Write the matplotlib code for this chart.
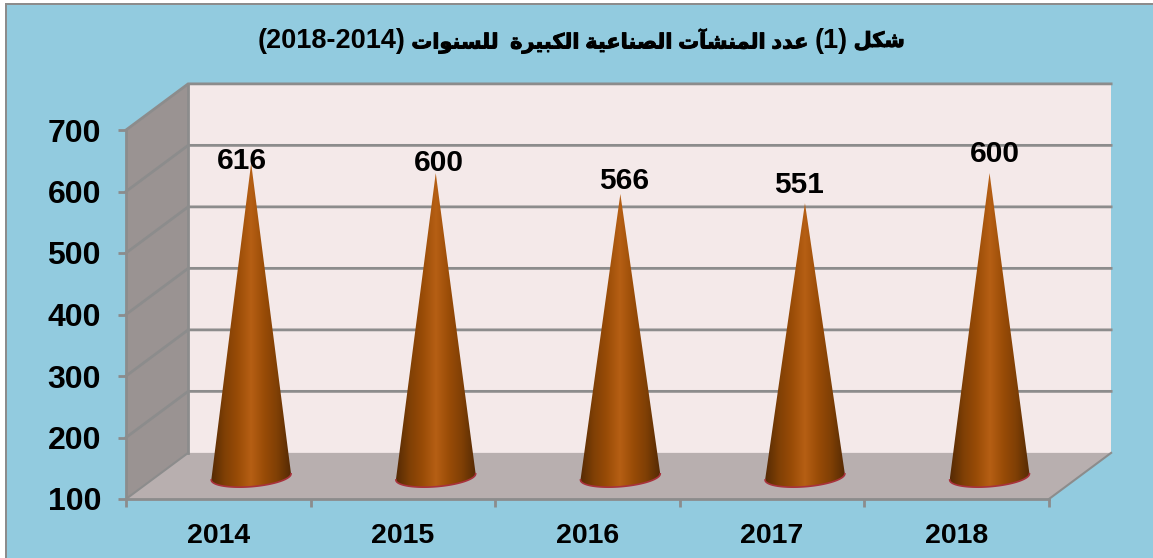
import numpy as np
import matplotlib
matplotlib.use('Agg')
import matplotlib.pyplot as plt
import matplotlib.patheffects as pe
from matplotlib.colors import LinearSegmentedColormap
from matplotlib.patches import Polygon, Rectangle

# matplotlib has no arabic shaping, so pick the presentation forms by hand
FORMS = {
    'ا': 'ﺍﺎ', 'آ': 'ﺁﺂ', 'د': 'ﺩﺪ', 'ر': 'ﺭﺮ', 'و': 'ﻭﻮ', 'ة': 'ﺓﺔ',
    'ب': 'ﺏﺐﺑﺒ', 'ت': 'ﺕﺖﺗﺘ', 'س': 'ﺱﺲﺳﺴ', 'ش': 'ﺵﺶﺷﺸ', 'ص': 'ﺹﺺﺻﺼ',
    'ع': 'ﻉﻊﻋﻌ', 'ك': 'ﻙﻚﻛﻜ', 'ل': 'ﻝﻞﻟﻠ', 'م': 'ﻡﻢﻣﻤ', 'ن': 'ﻥﻦﻧﻨ', 'ي': 'ﻱﻲﻳﻴ',
}

def shape_word(word):
    out = ''
    for i, ch in enumerate(word):
        forms = FORMS[ch]
        joins_prev = i > 0 and len(FORMS[word[i-1]]) == 4
        joins_next = i < len(word)-1 and len(forms) == 4
        if joins_prev and joins_next:
            out += forms[3]
        elif joins_next:
            out += forms[2]
        elif joins_prev:
            out += forms[1]
        else:
            out += forms[0]
    return out[::-1]

def shape_words(words):
    return ' '.join(shape_word(w) if w else '' for w in words[::-1])

#INPUTS
# title pieces, right to left as they stand in the picture
title_pieces = [shape_words(['شكل']), '(1)', shape_words(['عدد', 'المنشآت', 'الصناعية', 'الكبيرة', '', 'للسنوات']), '(2018-2014)']
title_sizes = [15, 19.5, 15, 19.5]
years = ['2014', '2015', '2016', '2017', '2018']
values = [616, 600, 566, 551, 600]
yticks = [100, 200, 300, 400, 500, 600, 700]

# depth of the fake 3d box, in data units
depth_x = 0.3365
depth_y = 75
cone_dx = 0.178
cone_base = 36
cone_top = 30
cone_hw = 0.216
label_nudge = [(-9, -12), (3, -4), (4, -1), (-6, 4), (5, 5)]

W, H = 1153, 558
bg = '#92CBDF'
line = '#8C8C8C'

plt.rcParams['font.family'] = ['Liberation Sans', 'DejaVu Sans']
plt.rcParams['font.weight'] = 'bold'

fig = plt.figure(figsize=(W/100, H/100), dpi=100, facecolor=bg)
# white margin and grey edge at top and left only
for x0, y0, x1, y1, c in [(0, 0, 5, H, 'white'), (0, 0, W, 3, 'white'), (5, 3, 7, H, '#8C8C8C'), (5, 3, W, 4.5, '#8C8C8C')]:
    fig.add_artist(Rectangle((x0/W, 1-y1/H), (x1-x0)/W, (y1-y0)/H, transform=fig.transFigure, fc=c, ec='none'))

# title laid out piece by piece from the right, digits are bigger than the arabic
renderer = fig.canvas.get_renderer()
right = 905
for piece, size in zip(title_pieces, title_sizes):
    t = fig.text(right/W, 1-41/H, piece, ha='right', va='center', fontsize=size, fontweight='bold', color='black')
    if size < 19:
        # the arabic comes out thin, thicken it a bit
        t.set_path_effects([pe.withStroke(linewidth=0.7, foreground='black')])
    right -= t.get_window_extent(renderer).width + 6

ax = fig.add_axes([126/W, 1-499/H, (1049-126)/W, (499-130)/H])
ax.patch.set_alpha(0)
ax.set_xlim(0, 5)
ax.set_ylim(100, 700)

# walls and floor
ax.add_patch(Polygon([(depth_x, 100+depth_y), (5+depth_x, 100+depth_y), (5+depth_x, 700+depth_y), (depth_x, 700+depth_y)],
                     fc='#F4E9E9', ec='none', clip_on=False, zorder=1))
ax.add_patch(Polygon([(0, 100), (depth_x, 100+depth_y), (depth_x, 700+depth_y), (0, 700)],
                     fc='#9A9392', ec='none', clip_on=False, zorder=1))
ax.add_patch(Polygon([(0, 100), (depth_x, 100+depth_y), (5+depth_x, 100+depth_y), (5, 100)],
                     fc='#B8AFAF', ec='none', clip_on=False, zorder=1))
for v in yticks[1:]:
    ax.plot([0, depth_x, 5+depth_x], [v, v+depth_y, v+depth_y], color=line, lw=2,
            clip_on=False, zorder=2, solid_joinstyle='miter')
ax.plot([depth_x, depth_x], [100+depth_y, 700+depth_y], color=line, lw=2, clip_on=False, zorder=2)
ax.plot([0, depth_x], [100, 100+depth_y], color=line, lw=1.5, clip_on=False, zorder=2)
ax.plot([5, 5+depth_x], [100, 100+depth_y], color=line, lw=1.5, clip_on=False, zorder=2)

# cones
cmap = LinearSegmentedColormap.from_list('cone', ['#552A04', '#7E3F05', '#994C07', '#B65F14', '#994C07', '#7E3F05', '#552A04'])
grad = np.linspace(0, 1, 256).reshape(1, -1)
for i, v in enumerate(values):
    xc = i + 0.5 + cone_dx
    t = np.linspace(np.pi, 2*np.pi, 60)
    ex = xc + cone_hw*np.cos(t)
    ey = 100 + cone_base + 16*np.sin(t) + 5*np.cos(t)
    apex = v + cone_top
    im = ax.imshow(grad, extent=[xc-cone_hw, xc+cone_hw, 100, apex], aspect='auto', cmap=cmap,
                   zorder=3, clip_on=True)
    outline = Polygon(np.column_stack([np.r_[ex, xc], np.r_[ey, apex]]), transform=ax.transData, fc='none', ec='none')
    ax.add_patch(outline)
    im.set_clip_path(outline)
    ax.plot(ex, ey, color='#A8323C', lw=1.2, zorder=4)
    ax.annotate(str(v), (xc, apex), xytext=label_nudge[i], textcoords='offset pixels', ha='center', va='bottom',
                fontsize=21.5, fontweight='bold', color='black', zorder=5, annotation_clip=False)
ax.set_xlim(0, 5)
ax.set_ylim(100, 700)

# axes
for s in ['top', 'right']:
    ax.spines[s].set_visible(False)
for s in ['left', 'bottom']:
    ax.spines[s].set_color(line)
    ax.spines[s].set_linewidth(2)
ax.set_yticks(yticks)
ax.set_xticks(range(6), labels=['']*6)
ax.set_xticks(np.arange(5)+0.5, labels=years, minor=True)
ax.tick_params(axis='both', which='major', color=line, width=2, length=6)
ax.tick_params(axis='x', which='minor', length=0, pad=17, labelsize=20.5)
ax.tick_params(axis='y', labelsize=23, pad=12)
for lab in ax.get_xticklabels(minor=True) + ax.get_yticklabels():
    lab.set_fontweight('bold')

fig.savefig('out.png', dpi=100, facecolor=bg)
